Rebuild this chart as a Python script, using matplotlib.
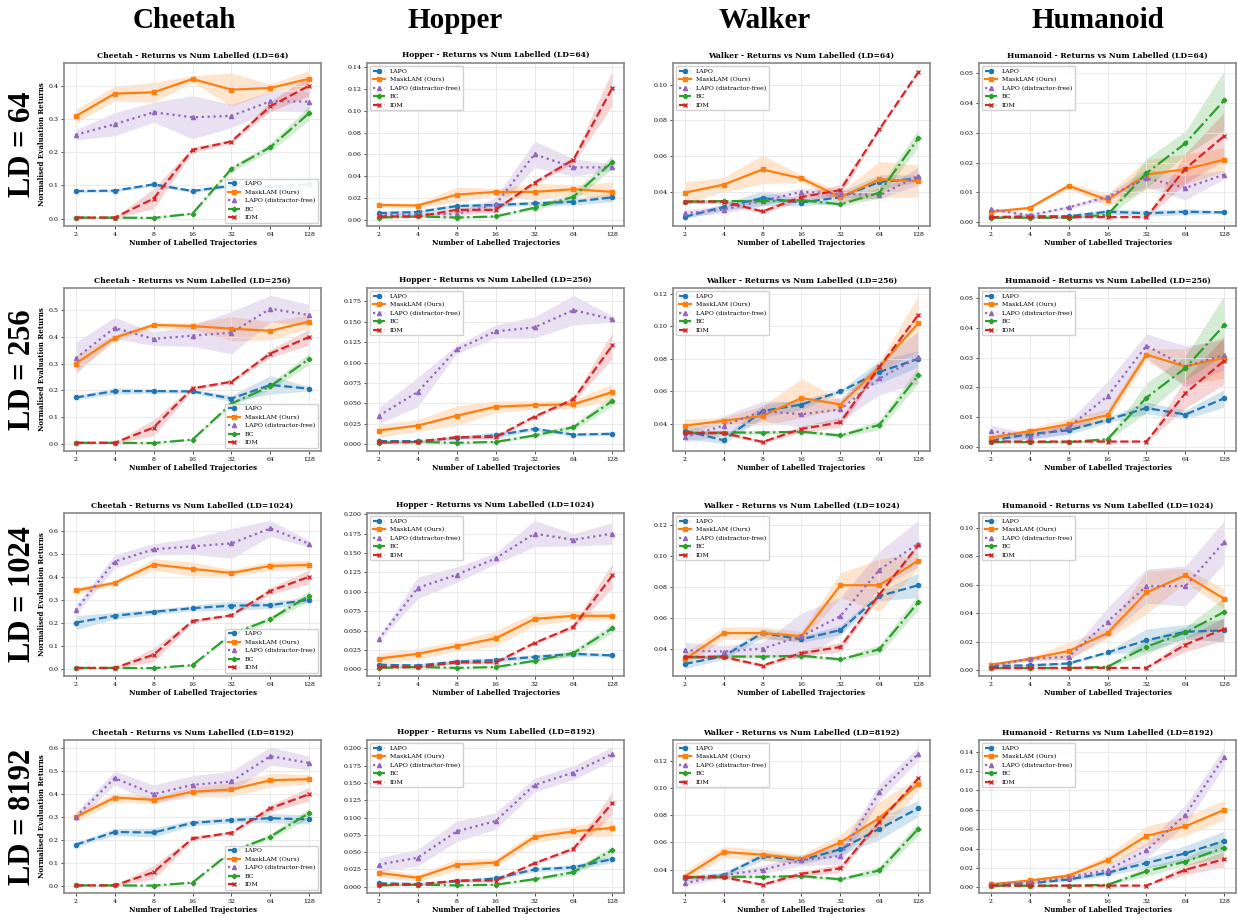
import matplotlib
matplotlib.use("Agg")
import matplotlib.pyplot as plt

num_labelled = [2, 4, 8, 16, 32, 64, 128]
envs = ["Cheetah", "Hopper", "Walker", "Humanoid"]
lds = [64, 256, 1024, 8192]

# BC and IDM do not use latent data, same in every row
bc = {
    "Cheetah": [0.003, 0.003, 0.002, 0.015, 0.150, 0.215, 0.318],
    "Hopper": [0.002, 0.003, 0.002, 0.003, 0.011, 0.021, 0.053],
    "Walker": [0.0345, 0.0348, 0.0348, 0.0353, 0.033, 0.0395, 0.070],
    "Humanoid": [0.0015, 0.0015, 0.0015, 0.0025, 0.0165, 0.0265, 0.041],
}
bc_std = {
    "Cheetah": [0.002, 0.002, 0.002, 0.003, 0.008, 0.012, 0.022],
    "Hopper": [0.001, 0.001, 0.001, 0.001, 0.002, 0.004, 0.006],
    "Walker": [0.001, 0.001, 0.001, 0.001, 0.001, 0.003, 0.005],
    "Humanoid": [0.0003, 0.0003, 0.0003, 0.0005, 0.005, 0.004, 0.010],
}
idm = {
    "Cheetah": [0.003, 0.003, 0.060, 0.207, 0.232, 0.338, 0.400],
    "Hopper": [0.003, 0.003, 0.009, 0.009, 0.034, 0.055, 0.121],
    "Walker": [0.0345, 0.0345, 0.029, 0.037, 0.041, 0.075, 0.107],
    "Humanoid": [0.0017, 0.0017, 0.0017, 0.0017, 0.0017, 0.018, 0.029],
}
idm_std = {
    "Cheetah": [0.002, 0.002, 0.030, 0.008, 0.006, 0.015, 0.030],
    "Hopper": [0.001, 0.001, 0.002, 0.002, 0.002, 0.003, 0.016],
    "Walker": [0.001, 0.001, 0.001, 0.002, 0.003, 0.001, 0.001],
    "Humanoid": [0.0002, 0.0002, 0.0002, 0.0002, 0.0002, 0.005, 0.008],
}

# LAPO
lapo = {
    "Cheetah": {64: [0.083, 0.084, 0.103, 0.083, 0.099, 0.096, 0.103],
                256: [0.173, 0.197, 0.197, 0.196, 0.169, 0.220, 0.206],
                1024: [0.200, 0.230, 0.247, 0.263, 0.274, 0.276, 0.300],
                8192: [0.180, 0.235, 0.233, 0.275, 0.287, 0.295, 0.290]},
    "Hopper": {64: [0.006, 0.007, 0.0125, 0.0135, 0.015, 0.0165, 0.0205],
               256: [0.004, 0.004, 0.008, 0.011, 0.019, 0.012, 0.013],
               1024: [0.006, 0.005, 0.010, 0.012, 0.016, 0.020, 0.018],
               8192: [0.005, 0.004, 0.008, 0.012, 0.025, 0.028, 0.040]},
    "Walker": {64: [0.026, 0.0315, 0.0365, 0.034, 0.037, 0.0455, 0.0475],
               256: [0.036, 0.030, 0.048, 0.052, 0.060, 0.072, 0.080],
               1024: [0.030, 0.035, 0.050, 0.046, 0.052, 0.074, 0.081],
               8192: [0.034, 0.036, 0.050, 0.047, 0.055, 0.070, 0.085]},
    "Humanoid": {64: [0.0017, 0.002, 0.002, 0.0035, 0.003, 0.0035, 0.0033],
                 256: [0.002, 0.0042, 0.0055, 0.009, 0.013, 0.0108, 0.0163],
                 1024: [0.003, 0.0035, 0.0048, 0.0125, 0.021, 0.027, 0.028],
                 8192: [0.003, 0.004, 0.008, 0.015, 0.025, 0.035, 0.048]},
}
lapo_std = {
    "Cheetah": {64: [0.004, 0.004, 0.005, 0.005, 0.005, 0.006, 0.010],
                256: [0.008, 0.012, 0.008, 0.007, 0.012, 0.035, 0.008],
                1024: [0.030, 0.015, 0.012, 0.012, 0.020, 0.015, 0.012],
                8192: [0.010, 0.015, 0.020, 0.012, 0.012, 0.020, 0.020]},
    "Hopper": {64: [0.002, 0.002, 0.002, 0.002, 0.002, 0.003, 0.004],
               256: [0.002, 0.002, 0.002, 0.004, 0.002, 0.002, 0.002],
               1024: [0.002, 0.002, 0.003, 0.003, 0.003, 0.003, 0.002],
               8192: [0.002, 0.002, 0.002, 0.003, 0.003, 0.004, 0.005]},
    "Walker": {64: [0.001, 0.002, 0.004, 0.002, 0.003, 0.004, 0.002],
               256: [0.005, 0.002, 0.004, 0.003, 0.001, 0.007, 0.005],
               1024: [0.003, 0.002, 0.003, 0.002, 0.003, 0.003, 0.008],
               8192: [0.002, 0.002, 0.003, 0.003, 0.004, 0.008, 0.006]},
    "Humanoid": {64: [0.0005, 0.0005, 0.0005, 0.001, 0.001, 0.001, 0.0005],
                 256: [0.001, 0.0015, 0.0015, 0.001, 0.002, 0.0015, 0.003],
                 1024: [0.001, 0.001, 0.001, 0.001, 0.008, 0.005, 0.008],
                 8192: [0.001, 0.001, 0.002, 0.003, 0.005, 0.008, 0.010]},
}

# MaskLAM (Ours)
masklam = {
    "Cheetah": {64: [0.308, 0.376, 0.380, 0.420, 0.388, 0.393, 0.421],
                256: [0.300, 0.397, 0.445, 0.441, 0.431, 0.423, 0.458],
                1024: [0.340, 0.373, 0.453, 0.434, 0.416, 0.447, 0.451],
                8192: [0.300, 0.385, 0.375, 0.410, 0.420, 0.460, 0.465]},
    "Hopper": {64: [0.0135, 0.013, 0.023, 0.0255, 0.0255, 0.028, 0.0255],
               256: [0.017, 0.023, 0.035, 0.046, 0.048, 0.049, 0.064],
               1024: [0.014, 0.020, 0.030, 0.040, 0.065, 0.069, 0.069],
               8192: [0.020, 0.013, 0.032, 0.035, 0.072, 0.080, 0.085]},
    "Walker": {64: [0.0395, 0.044, 0.0525, 0.0475, 0.037, 0.047, 0.046],
               256: [0.039, 0.042, 0.045, 0.056, 0.052, 0.075, 0.102],
               1024: [0.033, 0.050, 0.050, 0.048, 0.081, 0.081, 0.097],
               8192: [0.035, 0.053, 0.051, 0.048, 0.060, 0.078, 0.103]},
    "Humanoid": {64: [0.0035, 0.0048, 0.0122, 0.0075, 0.016, 0.0178, 0.021],
                 256: [0.003, 0.0052, 0.0075, 0.0106, 0.031, 0.027, 0.030],
                 1024: [0.004, 0.008, 0.0135, 0.026, 0.0545, 0.0665, 0.050],
                 8192: [0.003, 0.007, 0.012, 0.028, 0.053, 0.063, 0.080]},
}
masklam_std = {
    "Cheetah": {64: [0.020, 0.022, 0.030, 0.010, 0.050, 0.012, 0.025],
                256: [0.030, 0.012, 0.010, 0.012, 0.045, 0.035, 0.025],
                1024: [0.015, 0.010, 0.025, 0.030, 0.015, 0.020, 0.020],
                8192: [0.020, 0.020, 0.015, 0.020, 0.030, 0.030, 0.020]},
    "Hopper": {64: [0.002, 0.002, 0.007, 0.003, 0.008, 0.004, 0.009],
               256: [0.008, 0.007, 0.012, 0.007, 0.005, 0.005, 0.010],
               1024: [0.007, 0.007, 0.006, 0.010, 0.008, 0.006, 0.005],
               8192: [0.006, 0.005, 0.008, 0.006, 0.008, 0.008, 0.012]},
    "Walker": {64: [0.006, 0.004, 0.008, 0.002, 0.003, 0.010, 0.009],
               256: [0.004, 0.002, 0.006, 0.012, 0.003, 0.003, 0.017],
               1024: [0.004, 0.004, 0.004, 0.003, 0.008, 0.017, 0.005],
               8192: [0.004, 0.004, 0.004, 0.003, 0.006, 0.012, 0.005]},
    "Humanoid": {64: [0.0005, 0.0005, 0.001, 0.002, 0.005, 0.005, 0.004],
                 256: [0.001, 0.001, 0.002, 0.002, 0.002, 0.006, 0.007],
                 1024: [0.001, 0.001, 0.006, 0.004, 0.015, 0.005, 0.007],
                 8192: [0.001, 0.001, 0.003, 0.005, 0.010, 0.010, 0.010]},
}

# LAPO (distractor-free)
lapo_df = {
    "Cheetah": {64: [0.252, 0.284, 0.320, 0.305, 0.309, 0.353, 0.352],
                256: [0.320, 0.434, 0.393, 0.405, 0.416, 0.506, 0.482],
                1024: [0.255, 0.466, 0.519, 0.532, 0.545, 0.610, 0.543],
                8192: [0.300, 0.470, 0.400, 0.440, 0.455, 0.565, 0.535]},
    "Hopper": {64: [0.004, 0.005, 0.005, 0.014, 0.060, 0.048, 0.048],
               256: [0.035, 0.064, 0.116, 0.138, 0.143, 0.164, 0.153],
               1024: [0.039, 0.105, 0.122, 0.143, 0.175, 0.167, 0.175],
               8192: [0.032, 0.042, 0.080, 0.095, 0.147, 0.165, 0.192]},
    "Walker": {64: [0.028, 0.030, 0.035, 0.040, 0.039, 0.038, 0.049],
               256: [0.032, 0.039, 0.048, 0.046, 0.049, 0.068, 0.081],
               1024: [0.039, 0.038, 0.040, 0.048, 0.061, 0.091, 0.108],
               8192: [0.030, 0.036, 0.040, 0.047, 0.050, 0.097, 0.125]},
    "Humanoid": {64: [0.0043, 0.0023, 0.005, 0.0085, 0.0148, 0.0115, 0.016],
                 256: [0.0053, 0.0032, 0.0065, 0.017, 0.034, 0.027, 0.031],
                 1024: [0.003, 0.008, 0.0095, 0.034, 0.059, 0.059, 0.090],
                 8192: [0.003, 0.005, 0.010, 0.018, 0.038, 0.075, 0.135]},
}
lapo_df_std = {
    "Cheetah": {64: [0.015, 0.035, 0.030, 0.065, 0.035, 0.030, 0.030],
                256: [0.060, 0.040, 0.025, 0.040, 0.080, 0.050, 0.040],
                1024: [0.020, 0.030, 0.025, 0.035, 0.065, 0.035, 0.015],
                8192: [0.020, 0.030, 0.040, 0.040, 0.045, 0.040, 0.030]},
    "Hopper": {64: [0.001, 0.001, 0.002, 0.006, 0.012, 0.008, 0.003],
               256: [0.010, 0.018, 0.005, 0.008, 0.013, 0.018, 0.004],
               1024: [0.003, 0.014, 0.010, 0.007, 0.017, 0.008, 0.014],
               8192: [0.010, 0.012, 0.015, 0.012, 0.010, 0.010, 0.010]},
    "Walker": {64: [0.002, 0.002, 0.003, 0.002, 0.002, 0.002, 0.005],
               256: [0.003, 0.006, 0.006, 0.008, 0.007, 0.010, 0.016],
               1024: [0.005, 0.004, 0.004, 0.015, 0.012, 0.012, 0.015],
               8192: [0.002, 0.002, 0.003, 0.004, 0.006, 0.006, 0.005]},
    "Humanoid": {64: [0.0005, 0.0005, 0.0005, 0.001, 0.003, 0.004, 0.0015],
                 256: [0.002, 0.001, 0.002, 0.005, 0.004, 0.007, 0.005],
                 1024: [0.0005, 0.001, 0.002, 0.010, 0.012, 0.014, 0.015],
                 8192: [0.0005, 0.001, 0.002, 0.005, 0.008, 0.010, 0.010]},
}

plt.rcParams['font.family'] = ['DejaVu Serif']

fig = plt.figure(figsize=(12.38, 9.18), dpi=100)

col_left = [0.0517, 0.2965, 0.5436, 0.7908]
row_bottom = [0.7538, 0.5087, 0.2636, 0.0272]
row_height = [0.1776, 0.1776, 0.1776, 0.1667]
ax_w = 0.2076

for r, ld in enumerate(lds):
    for c, env in enumerate(envs):
        ax = fig.add_axes([col_left[c], row_bottom[r], ax_w, row_height[r]])
        series = [
            ("LAPO", lapo[env][ld], lapo_std[env][ld], 'tab:blue', '--', 'o'),
            ("MaskLAM (Ours)", masklam[env][ld], masklam_std[env][ld], 'tab:orange', '-', 's'),
            ("LAPO (distractor-free)", lapo_df[env][ld], lapo_df_std[env][ld], 'tab:purple', ':', '^'),
            ("BC", bc[env], bc_std[env], 'tab:green', '-.', 'P'),
            ("IDM", idm[env], idm_std[env], 'tab:red', '--', 'x'),
        ]
        for label, mean, std, color, ls, mk in series:
            lo = [m - s for m, s in zip(mean, std)]
            hi = [m + s for m, s in zip(mean, std)]
            ax.fill_between(num_labelled, lo, hi, color=color, alpha=0.2, linewidth=0)
            ax.plot(num_labelled, mean, color=color, linestyle=ls, marker=mk,
                    markersize=3, linewidth=1.6, label=label)
        ax.set_xscale('log', base=2)
        ax.set_xticks(num_labelled)
        ax.set_xticklabels([str(n) for n in num_labelled])
        ax.minorticks_off()
        ax.tick_params(labelsize=4.5, length=2, width=0.5, pad=2)
        ax.grid(True, color='#e6e6e6', linewidth=0.6)
        for sp in ax.spines.values():
            sp.set_color('#888888')
            sp.set_linewidth(1.2)
        ax.set_title(f"{env} - Returns vs Num Labelled (LD={ld})",
                     fontsize=5.5, fontweight='bold', pad=4)
        ax.set_xlabel("Number of Labelled Trajectories", fontsize=5,
                      fontweight='bold', labelpad=2)
        if c == 0:
            ax.set_ylabel("Normalised Evaluation Returns", fontsize=5,
                          fontweight='bold', labelpad=2)
            ax.legend(loc='lower right', fontsize=4.5, framealpha=0.9)
        else:
            ax.legend(loc='upper left', fontsize=4.5, framealpha=0.9)

header_x = [0.149, 0.368, 0.618, 0.887]
for x, env in zip(header_x, envs):
    fig.text(x, 0.978, env, ha='center', va='center', fontsize=21,
             fontweight='bold', family='Liberation Serif')

for r, ld in enumerate(lds):
    fig.text(0.018, row_bottom[r] + row_height[r] / 2, f"LD = {ld}", rotation=90,
             ha='center', va='center', fontsize=22, fontweight='bold',
             family='Liberation Serif')

fig.savefig("out.png", dpi=100)
